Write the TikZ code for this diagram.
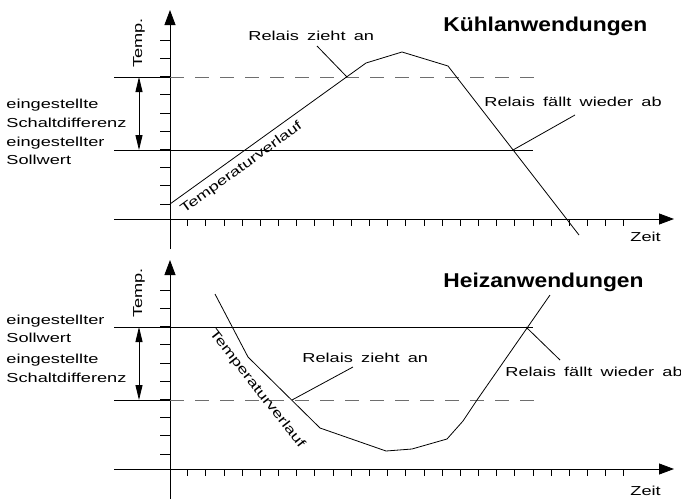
\documentclass[tikz,border=0pt]{standalone}
\usepackage{fontspec}
\setmainfont{Liberation Sans}
\newfontfamily\cadfont[FakeStretch=1.4]{Liberation Sans}
\newfontfamily\titelfont[FakeStretch=1.14]{Liberation Sans}
\usepackage{xcolor}
\definecolor{dashgray}{RGB}{110,110,110}
\usepackage{tikz}
\usetikzlibrary{arrows.meta,calc}

\begin{document}
\begin{tikzpicture}[x=1pt,y=-1pt,line width=0.8pt,line cap=butt,
  lbl/.style={inner sep=0pt,font=\cadfont\fontsize{13}{19}\selectfont,
    execute at begin node={\spaceskip=8.2pt plus 1pt\relax}},
  titel/.style={inner sep=0pt,font=\titelfont\fontsize{20}{24}\selectfont\bfseries},
  achse/.style={-{Triangle[length=15pt,width=11pt]}},
  mass/.style={{Triangle[length=15pt,width=7pt]}-{Triangle[length=15pt,width=7pt]}},
  grenze/.style={dashgray,dash pattern=on 14pt off 11pt},
  verlauf/.style={line join=round}]
  \useasboundingbox (0,0) rectangle (681,499);

    % The axes and ticks:
  \foreach \dy in {0,250} {
    \draw[achse] (170,249+\dy) -- (170,10+\dy);
    \draw[achse] (114,219+\dy) -- (674,219+\dy);
    \foreach \k in {0,...,9}
      \draw (160,204+\dy-18.2*\k) -- (170,204+\dy-18.2*\k);
    \foreach \k in {0,...,24}
      \draw (187.7+18.17*\k,219+\dy) -- (187.7+18.17*\k,226+\dy);
  }

    % Kuehlanwendungen:
  \draw (114,77) -- (170,77);
  \draw[grenze] (170,77) -- (535,77);
  \draw (114,150) -- (533,150);
  \draw[mass] (139,77) -- (139,150);
  \draw[verlauf] (170,204) -- (366,63) -- (402,52) -- (448,66) -- (579,235);

  \node[titel,anchor=base west] (kuehl) at (443,31.5) {Kühlanwendungen};
  \node[lbl,rotate=90,anchor=base west] (tempK) at (142,68) {Temp.};
  \node[lbl,anchor=base west] (schaltK) at (6,108) {eingestellte};
  \node[lbl,anchor=base west] (schaltK2) at (6,127) {Schaltdifferenz};
  \node[lbl,anchor=base west] (sollK) at (6,146) {eingestellter};
  \node[lbl,anchor=base west] (sollK2) at (6,164.5) {Sollwert};
  \node[lbl,rotate=36] (verlaufK) at (241.5,168) {Temperaturverlauf};
  \node[lbl,anchor=base west] (ziehtK) at (248,40) {Relais zieht an};
  \node[lbl,anchor=base west] (faelltK) at (484,106.5) {Relais fällt wieder ab};
  \node[lbl,anchor=base west] (zeitK) at (630,241.5) {Zeit};

  \coordinate (ziehtK-fuss) at (317,46);
  \coordinate (ziehtK-punkt) at (347,77);
  \coordinate (faelltK-fuss) at (575,115);
  \coordinate (faelltK-punkt) at (513,150);
  \draw (ziehtK-fuss) -- (ziehtK-punkt);
  \draw (faelltK-fuss) -- (faelltK-punkt);

    % Heizanwendungen:
  \draw (114,327) -- (533,327);
  \draw (114,400) -- (170,400);
  \draw[grenze] (170,400) -- (535,400);
  \draw[mass] (139,327) -- (139,400);
  \draw[verlauf] (215,294) -- (248,357) -- (320,428) -- (386,451) -- (412,449)
    -- (447,439) -- (463,421) -- (477,400) -- (550,295);

  \node[titel,anchor=base west] (heiz) at (443,287) {Heizanwendungen};
  \node[lbl,rotate=90,anchor=base west] (tempH) at (142,318) {Temp.};
  \node[lbl,anchor=base west] (sollH) at (6,324) {eingestellter};
  \node[lbl,anchor=base west] (sollH2) at (6,342.5) {Sollwert};
  \node[lbl,anchor=base west] (schaltH) at (6,363) {eingestellte};
  \node[lbl,anchor=base west] (schaltH2) at (6,382) {Schaltdifferenz};
  \node[lbl,rotate=-52] (verlaufH) at (257,389) {Temperaturverlauf};
  \node[lbl,anchor=base west] (ziehtH) at (302,362.5) {Relais zieht an};
  \node[lbl,anchor=base west] (faelltH) at (505,376) {Relais fällt wieder ab};
  \node[lbl,anchor=base west] (zeitH) at (630,495) {Zeit};

  \coordinate (ziehtH-fuss) at (353,367);
  \coordinate (ziehtH-punkt) at (292,400);
  \coordinate (faelltH-fuss) at (560,360);
  \coordinate (faelltH-punkt) at (526,327);
  \draw (ziehtH-fuss) -- (ziehtH-punkt);
  \draw (faelltH-fuss) -- (faelltH-punkt);

\end{tikzpicture}
\end{document}
